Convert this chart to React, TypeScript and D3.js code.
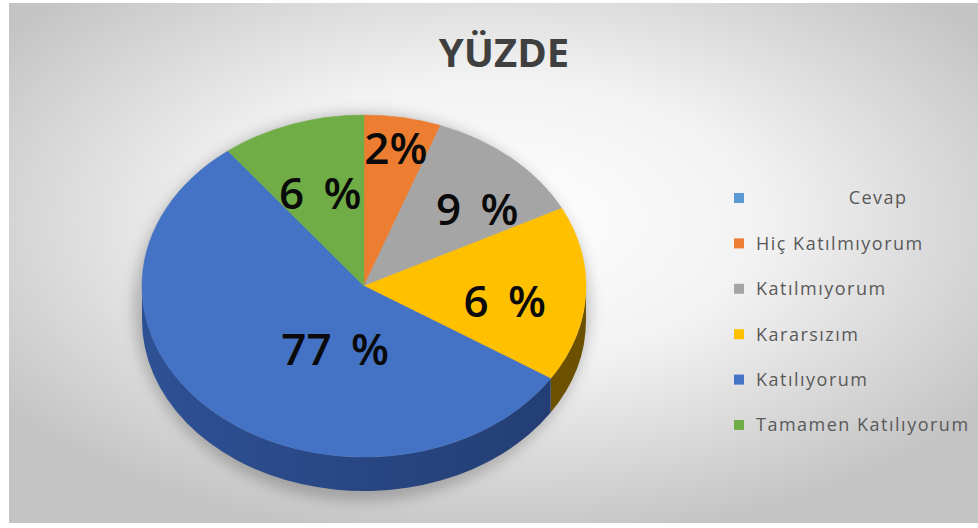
import React from "react";
import * as d3 from "d3";

const TITLE = "YÜZDE";
const categories = ["               Cevap", "Hiç Katılmıyorum", "Katılmıyorum", "Kararsızım", "Katılıyorum", "Tamamen Katılıyorum"];
const values = [0, 5.6, 11.9, 16.6, 55.4, 10.5];
const dataLabels = ["", "2%", "9 %", "6 %", "77 %", "6 %"];
const topColors = ["#5b9bd5", "#ed7d31", "#a5a5a5", "#ffc000", "#4472c4", "#70ad47"];
const sideColors = ["#3b6a96", "#a4541d", "#737373", "#7a5c00", "#284682", "#4c7a30"];

// layout (not data)
const W = 978, H = 528;
const CX = 364, CY = 286, RX = 222, RY = 171, DEPTH = 34;
// label placement: [radius factor, angle shift in degrees from slice mid]
const LABEL_LAYOUT: [number, number][] = [[0, 0], [0.82, 0], [0.68, 7], [0.64, 5], [0.39, -23], [0.58, -1]];

const px = (a: number, dy = 0) => [CX + RX * Math.sin(a), CY - RY * Math.cos(a) + dy];

function topPath(a0: number, a1: number) {
  const [x0, y0] = px(a0);
  const [x1, y1] = px(a1);
  const large = a1 - a0 > Math.PI ? 1 : 0;
  return `M${CX},${CY}L${x0},${y0}A${RX},${RY} 0 ${large} 1 ${x1},${y1}Z`;
}

function sidePath(a0: number, a1: number) {
  const s = Math.max(a0, Math.PI / 2);
  const e = Math.min(a1, (3 * Math.PI) / 2);
  if (e <= s) return null;
  const [x0, y0] = px(s);
  const [x1, y1] = px(e);
  const large = e - s > Math.PI ? 1 : 0;
  return `M${x0},${y0}A${RX},${RY} 0 ${large} 1 ${x1},${y1}L${x1},${y1 + DEPTH}A${RX},${RY} 0 ${large} 0 ${x0},${y0 + DEPTH}Z`;
}

export default function App() {
  const pie = d3.pie<number>().sort(null).startAngle(0).endAngle(2 * Math.PI).value((d) => d);
  const arcs = pie(values);
  const legendY = d3.scalePoint<number>().domain(d3.range(categories.length)).range([198, 425]);

  return (
    <svg width={W} height={H} style={{ position: "absolute", left: 0, top: 0, display: "block" }}>
      <defs>
        <radialGradient id="bg" cx="0.5" cy="0.42" r="0.62">
          <stop offset="0" stopColor="#ffffff" />
          <stop offset="0.45" stopColor="#f2f2f2" />
          <stop offset="1" stopColor="#c4c4c4" />
        </radialGradient>
        <filter id="blur" x="-20%" y="-20%" width="140%" height="140%">
          <feGaussianBlur stdDeviation="7" />
        </filter>
        {arcs.map((a, i) => (
          <linearGradient key={i} id={`side${i}`} gradientUnits="userSpaceOnUse" x1={CX - RX} y1={0} x2={CX + RX} y2={0}>
            <stop offset="0" stopColor={d3.color(sideColors[i])!.brighter(0.4).formatHex()} />
            <stop offset="0.5" stopColor={sideColors[i]} />
            <stop offset="1" stopColor={d3.color(sideColors[i])!.darker(0.4).formatHex()} />
          </linearGradient>
        ))}
      </defs>
      <rect x={0} y={0} width={W} height={H} fill="#ffffff" />
      <rect x={9} y={3} width={W - 9} height={520} fill="url(#bg)" />

      <text x={504} y={67} textAnchor="middle" fontFamily="'Open Sans', sans-serif" fontWeight={700} fontSize={40} fill="#3f3f3f">
        {TITLE}
      </text>

      <ellipse cx={CX - 2} cy={CY + DEPTH / 2 + 4} rx={RX + 6} ry={RY + DEPTH / 2 + 6} fill="rgba(0,0,0,0.22)" filter="url(#blur)" />

      {arcs.map((a, i) => {
        const d = sidePath(a.startAngle, a.endAngle);
        return d ? <path key={`s${i}`} d={d} fill={`url(#side${i})`} /> : null;
      })}
      {arcs.map((a, i) =>
        a.endAngle - a.startAngle > 0 ? (
          <path key={`t${i}`} d={topPath(a.startAngle, a.endAngle)} fill={topColors[i]} stroke={topColors[i]} strokeWidth={0.5} />
        ) : null
      )}

      {arcs.map((a, i) => {
        if (!dataLabels[i]) return null;
        const [rf, shift] = LABEL_LAYOUT[i];
        const mid = (a.startAngle + a.endAngle) / 2 + (shift * Math.PI) / 180;
        const x = CX + RX * rf * Math.sin(mid);
        const y = CY - RY * rf * Math.cos(mid);
        return (
          <text key={`l${i}`} x={x} y={y} dy="0.36em" textAnchor="middle" fontFamily="'Open Sans', sans-serif" fontWeight={600} fontSize={44} fill="#0a0a0a" style={{ wordSpacing: "8px" }}>
            {dataLabels[i]}
          </text>
        );
      })}

      {categories.map((c, i) => {
        const y = legendY(i)!;
        return (
          <g key={`g${i}`}>
            <rect x={734} y={y - 5} width={10} height={10} fill={topColors[i]} />
            <text x={756} y={y} dy="0.35em" fontFamily="'Open Sans', sans-serif" fontSize={18} fill="#595959" letterSpacing={1.5} xmlSpace="preserve" style={{ whiteSpace: "pre" }}>
              {c}
            </text>
          </g>
        );
      })}
    </svg>
  );
}
